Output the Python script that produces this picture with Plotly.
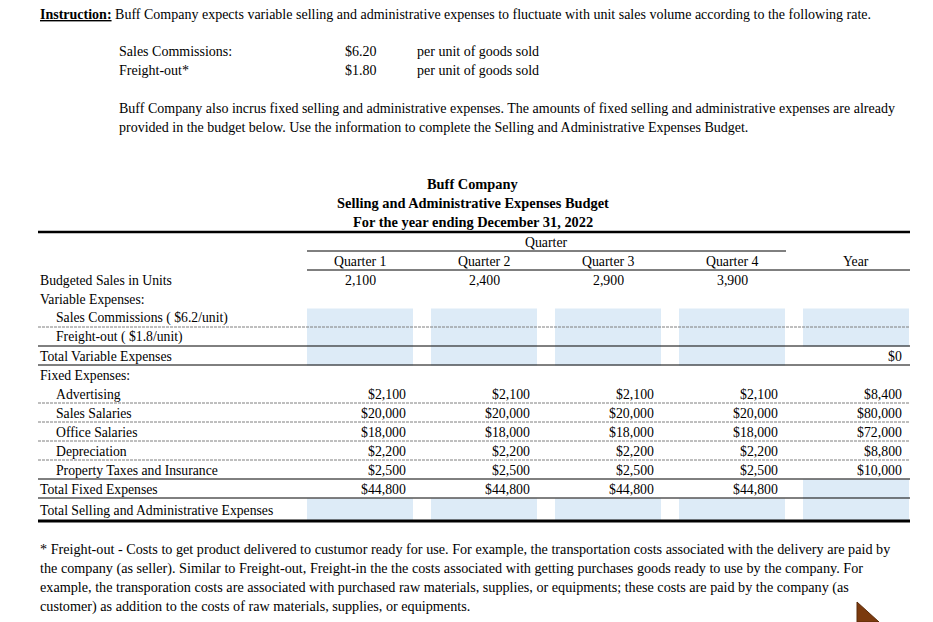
import plotly.graph_objects as go

# ---------------- data ----------------
quarters = ["Quarter 1", "Quarter 2", "Quarter 3", "Quarter 4"]
year_label = "Year"
units = [2100, 2400, 2900, 3900]
rate_names = ["Sales Commissions:", "Freight-out*"]
rate_values = [6.20, 1.80]
fixed_items = ["Advertising", "Sales Salaries", "Office Salaries", "Depreciation",
               "Property Taxes and Insurance"]
fixed_quarterly = [2100, 20000, 18000, 2200, 2500]
fixed_year = [8400, 80000, 72000, 8800, 10000]
total_variable_year = 0

W, H = 933, 622
OFF = 8  # page body margin compensation
PAD = 2  # annotation padding compensation
FONT = "Liberation Serif"
FS = 13.8
BLACK = "#000000"
BLUE = "#ddebf7"

fig = go.Figure()
ann = []
shapes = []


def text(x, y, s, anchor="left", size=FS, bold=False):
    if bold:
        s = "<b>" + s + "</b>"
    if anchor == "left":
        x -= PAD
    elif anchor == "right":
        x += PAD
    ann.append(dict(x=x, y=y, xref="x", yref="y", text=s, showarrow=False,
                    xanchor=anchor, yanchor="middle",
                    font=dict(family=FONT, size=size, color=BLACK)))


def hline(x0, x1, y, width=1, dash=None, color=BLACK):
    line = dict(color=color, width=width)
    if dash:
        line["dash"] = dash
    shapes.append(dict(type="line", xref="x", yref="y", x0=x0, x1=x1, y0=y, y1=y, line=line))


def rect(x0, x1, y0, y1, color=BLUE):
    shapes.append(dict(type="rect", xref="x", yref="y", x0=x0, x1=x1, y0=y0, y1=y1,
                       fillcolor=color, line=dict(width=0), layer="below"))


# ---------------- instructions ----------------
text(40, 14, "<u><b>Instruction:</b></u> Buff Company expects variable selling and administrative "
     "expenses to fluctuate with unit sales volume according to the following rate.", size=14)
for i, (nm, v) in enumerate(zip(rate_names, rate_values)):
    y = 51 + 19 * i
    text(119, y, nm, size=14)
    text(377, y, "${:.2f}".format(v), anchor="right", size=14)
    text(417, y, "per unit of goods sold", size=14)
text(119, 108, "Buff Company also incrus fixed selling and administrative expenses. The amounts of fixed "
     "selling and administrative expenses are already", size=14)
text(119, 127, "provided in the budget below. Use the information to complete the Selling and "
     "Administrative Expenses Budget.", size=14)

# ---------------- title ----------------
TS = 14.4
text(473, 184, "Buff Company", anchor="center", bold=True, size=TS)
text(473, 203, "Selling and Administrative Expenses Budget", anchor="center", bold=True, size=TS)
text(473, 222, "For the year ending December 31, 2022", anchor="center", bold=True, size=TS)

LX, RX = 38, 910
hline(LX, RX, 232, width=2.5)

# columns
col_left = [307, 431, 555, 679, 803]
col_w = 106
col_center = [c + col_w / 2 for c in col_left]
col_right = [c + col_w - 7 for c in col_left]

text(546, 242, "Quarter", anchor="center")
hline(307, 786, 251)
for i, q in enumerate(quarters + [year_label]):
    text(col_center[i], 261, q, anchor="center")
hline(307, RX, 270)

# rows
ROW0 = 270.5
RH = 19


def row_top(i):
    return ROW0 + RH * i


def row_mid(i):
    return row_top(i) + RH / 2


labels = (["Budgeted Sales in Units", "Variable Expenses:",
           "Sales Commissions ( ${:g}/unit)".format(rate_values[0]),
           "Freight-out ( ${:g}/unit)".format(rate_values[1]),
           "Total Variable Expenses", "Fixed Expenses:"] + fixed_items +
          ["Total Fixed Expenses", "Total Selling and Administrative Expenses"])
indent = [0, 0, 1, 1, 0, 0, 1, 1, 1, 1, 1, 0, 0]

# blue input cells
for c in range(5):
    rect(col_left[c], col_left[c] + col_w, row_top(2), row_top(4))
for c in range(4):
    rect(col_left[c], col_left[c] + col_w, row_top(4), row_top(5))
rect(col_left[4], col_left[4] + col_w, row_top(11), row_top(12))
for c in range(5):
    rect(col_left[c], col_left[c] + col_w, row_top(12), 520)

for i, lab in enumerate(labels):
    ym = row_mid(i) if i < 12 else 510
    text(40 + 16 * indent[i], ym, lab, size=13.7)

# units
for c, u in enumerate(units):
    text(col_center[c], row_mid(0), "{:,}".format(u), anchor="center")

# total variable year
text(col_right[4], row_mid(4), "${:,}".format(total_variable_year), anchor="right")

# fixed expenses
for k, (qv, yv) in enumerate(zip(fixed_quarterly, fixed_year)):
    r = 6 + k
    for c in range(4):
        text(col_right[c], row_mid(r), "${:,}".format(qv), anchor="right")
    text(col_right[4], row_mid(r), "${:,}".format(yv), anchor="right")
total_fixed = sum(fixed_quarterly)
for c in range(4):
    text(col_right[c], row_mid(11), "${:,}".format(total_fixed), anchor="right")

# row lines
GRAY = "#7f7f7f"
hline(LX, RX, row_top(3) - 0.5, dash="3px,1px", color=GRAY)
for r in [7, 8, 9, 10]:
    hline(LX, RX, row_top(r) - 0.5, dash="3px,1px", color=GRAY)
for r in [4, 5, 11, 12]:
    hline(LX, RX, row_top(r) - 0.5)
hline(LX, RX, 521, width=3)

# ---------------- footnote ----------------
foot = ["* Freight-out - Costs to get product delivered to custumor ready for use. For example, the "
        "transportation costs associated with the delivery are paid by",
        "the company (as seller). Similar to Freight-out, Freight-in the the costs associated with "
        "getting purchases goods ready to use by the company. For",
        "example, the transporation costs are associated with purchased raw materials, supplies, or "
        "equipments; these costs are paid by the company (as",
        "customer) as addition to the costs of raw materials, supplies, or equipments."]
for i, ln in enumerate(foot):
    text(40, 549 + 19 * i, ln, size=14.2)

# cursor-like brown triangle
shapes.append(dict(type="path", xref="x", yref="y",
                   path="M 857 602 L 857 622 L 879 622 Z",
                   fillcolor="#7b3a0e", line=dict(color="#5a2a08", width=1)))

fig.update_layout(
    width=W, height=H,
    margin=dict(l=0, r=0, t=0, b=0),
    paper_bgcolor="white", plot_bgcolor="white",
    xaxis=dict(range=[OFF, W + OFF], visible=False, fixedrange=True),
    yaxis=dict(range=[H + OFF, OFF], visible=False, fixedrange=True),
    annotations=ann, shapes=shapes, showlegend=False,
)
fig.write_html("out.html", config={"displayModeBar": False})
